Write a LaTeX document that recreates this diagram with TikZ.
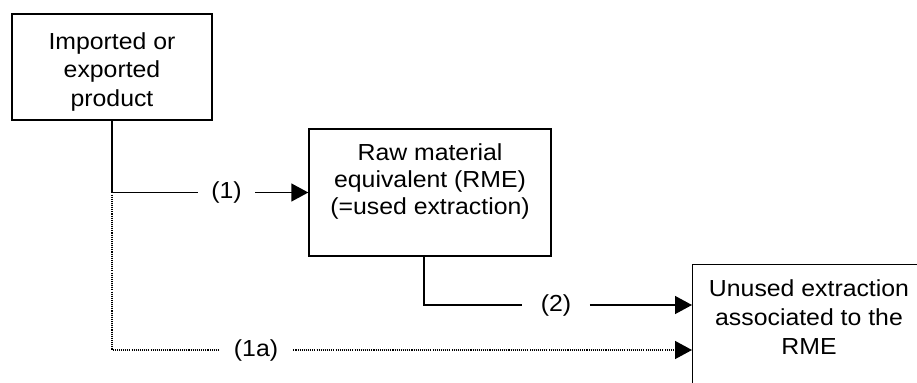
\documentclass[tikz,border=0pt]{standalone}
\usepackage{fontspec}
\setmainfont{Liberation Sans}[FakeStretch=1.07]
\usetikzlibrary{arrows.meta}
\tikzstyle{box} = [rectangle, draw=black, line width=0.8pt, align=center]
\tikzstyle{tag} = [inner sep=0pt, minimum height=0.5cm, font=\fontsize{13.2}{15}\selectfont]
\tikzstyle{wire} = [line width=0.8pt]
\tikzstyle{link} = [line width=0.8pt, -{Triangle[length=0.34cm,width=0.36cm]}]
\tikzstyle{dots} = [dash pattern=on 0.6pt off 0.6pt]
\begin{document}
\begin{tikzpicture}
    \useasboundingbox (0,0) rectangle (18.34,7.64);
    \node at (2.24,6.30) [box, minimum width=4cm, minimum height=2.12cm, text height=1.6cm, text depth=0.04cm, font=\fontsize{13.2}{16.2}\selectfont] (prod) {Imported or\\exported\\product};
    \node at (8.60,3.79) [box, minimum width=4.84cm, minimum height=2.54cm, text height=1.3cm, text depth=0.44cm, font=\fontsize{13.2}{15.1}\selectfont] (rme) {Raw material\\equivalent (RME)\\(=used extraction)};
    \node at (13.84,2.36) [box, anchor=north west, minimum width=6cm, minimum height=4cm] (unused) {};
    \node at (16.18,0.56) [anchor=base, align=center, inner sep=0pt, font=\fontsize{13.2}{16.5}\selectfont] (unusedtxt) {Unused extraction\\associated to the\\RME};
    \coordinate (in2) at (13.84,1.54);
    \coordinate (in1a) at (13.84,0.64);

    \node at (4.53,3.79) [tag, minimum width=1.14cm] (lab1) {(1)};
    \node at (5.12,0.64) [tag, minimum width=1.48cm] (lab1a) {(1a)};
    \node at (11.12,1.54) [tag, minimum width=1.34cm] (lab2) {(2)};

    \draw[wire] (prod) |- (lab1);
    \draw[link] (lab1) -- (rme);
    \draw[wire, dots] (prod) |- (lab1a);
    \draw[link, dots] (lab1a) -- (in1a);
    \draw[wire] ([xshift=-0.12cm]rme.south) |- (lab2);
    \draw[link] (lab2) -- (in2);
\end{tikzpicture}
\end{document}
